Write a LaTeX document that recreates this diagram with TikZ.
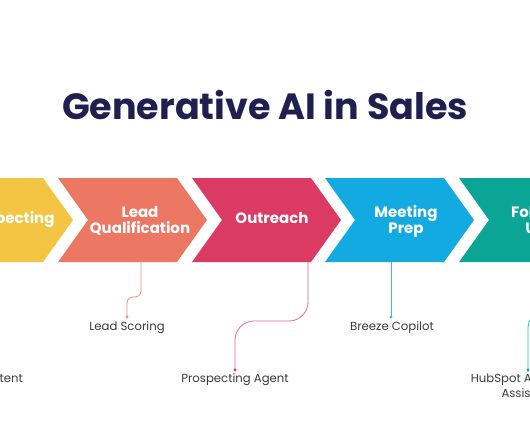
\documentclass[tikz,border=0pt]{standalone}
\usepackage{fontspec}
\setmainfont{Poppins}
\definecolor{cyellow}{HTML}{F4C443}
\definecolor{csalmon}{HTML}{EC7864}
\definecolor{ccrimson}{HTML}{DB3A63}
\definecolor{cblue}{HTML}{13AAE2}
\definecolor{cteal}{HTML}{0BA596}
\definecolor{lsalmon}{HTML}{EF8C78}
\definecolor{lpink}{HTML}{E9688E}
\definecolor{lblue}{HTML}{3BBAE9}
\definecolor{lteal}{HTML}{2DBBAA}
\definecolor{navy}{HTML}{1F2050}
\definecolor{labelgray}{HTML}{3A3A3A}
\begin{document}
\begin{tikzpicture}[x=1pt,y=-1pt,
  chev/.style={fill=#1, draw=none},
  steptext/.style={text=white, font=\fontsize{15}{16.5}\selectfont\bfseries, align=center, inner sep=0pt, anchor=base},
  tool/.style={text=labelgray, font=\fontsize{11.7}{15.5}\selectfont, align=center, inner sep=0pt, anchor=base},
  link/.style={draw=#1, line width=0.8pt},
  enddot/.style={fill=#1}]
\useasboundingbox (0,0) rectangle (530,442);
\fill[white] (0,0) rectangle (530,442);
\clip (0,0) rectangle (530,442);

% title
\node[text=navy, font=\fontsize{36.5}{40}\selectfont\bfseries, inner sep=0pt, anchor=base] (title) at (265,119) {Generative AI in Sales};

% chevrons
\foreach \x/\c in {-76/cyellow, 58/csalmon, 192/ccrimson, 325/cblue, 459/cteal}{
  \fill[chev=\c] (\x,178) -- (\x+119,178) -- (\x+149,220) -- (\x+119,262) -- (\x,262) -- (\x+30,220) -- cycle;
}

% step texts
\node[steptext] (s1) at (8,223.5) {Prospecting};
\node[steptext] (s2) at (140,233.5) {Lead\\Qualification};
\node[steptext] (s3) at (272,223.5) {Outreach};
\node[steptext] (s4) at (406,233.5) {Meeting\\Prep};
\node[steptext] (s5) at (540,233.5) {Follow-\\Ups};

% connector anchors on chevron bottoms
\coordinate (b2) at (141,262);
\coordinate (b3) at (308,262);
\coordinate (b4) at (391,262);
\coordinate (b5) at (575,262);
\coordinate (d2) at (127,317);
\coordinate (d3) at (235,370);
\coordinate (d4) at (391,317);
\coordinate (d5) at (528,370);

% tool labels
\node[tool] (t1) at (6,382) {Intent};
\node[tool] (t2) at (127,330) {Lead Scoring};
\node[tool] (t3) at (235,382) {Prospecting Agent};
\node[tool] (t4) at (392,330) {Breeze Copilot};
\node[tool] (t5) at (528,397.5) {HubSpot AI Content\\Assistant};

% connectors
\draw[link=lsalmon, rounded corners=6] (b2) -- (b2 |- 0,297) -- (d2 |- 0,297) -- (d2);
\draw[link=lpink, rounded corners=19] (b3) -- (b3 |- 0,321) -- (d3 |- 0,321) -- (d3);
\draw[link=lblue] (b4) -- (d4);
\draw[link=lteal, rounded corners=13] (b5) -- (b5 |- 0,314) -- (d5 |- 0,314) -- (d5);

\foreach \d/\c in {d2/lsalmon, d3/ccrimson, d4/lblue, d5/cteal}{
  \fill[enddot=\c] (\d) circle (1.7);
}
\end{tikzpicture}
\end{document}
